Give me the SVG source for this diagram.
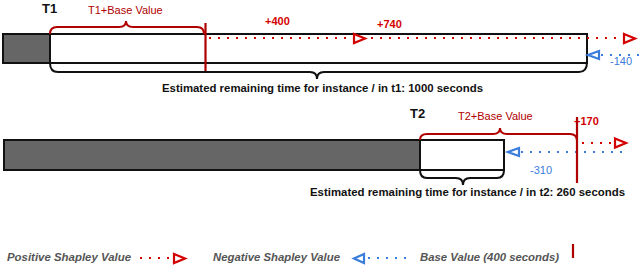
<svg xmlns="http://www.w3.org/2000/svg" width="640" height="267" viewBox="0 0 640 267">
<style>
.bar{fill:#666;stroke:#111;stroke-width:2}
.box{fill:#fff;stroke:#111;stroke-width:2}
.brace{fill:none;stroke:#111;stroke-width:2}
.rbrace{fill:none;stroke:#b00000;stroke-width:2}
.base{stroke:#b00000;stroke-width:2.2}
.pos{fill:none;stroke:#d40000;stroke-width:2;stroke-dasharray:2 7}
.neg{fill:none;stroke:#3a7ddc;stroke-width:2;stroke-dasharray:2 7}
.parr{fill:#fff;stroke:#d40000;stroke-width:2.2}
.narr{fill:#fff;stroke:#3a7ddc;stroke-width:2.2}
.t{font-family:"Liberation Sans",Arial,sans-serif}
.title{font-size:13px;font-weight:bold;fill:#111}
.rlab{font-size:11px;fill:#b00000}
.pnum{font-size:11px;font-weight:bold;fill:#d40000}
.nnum{font-size:11px;fill:#3a7ddc}
.est{font-size:10.5px;font-weight:bold;fill:#111}
.leg{font-size:10.5px;font-weight:bold;font-style:italic;fill:#555}
</style>
<g id="t1-bar">
<rect class="box" x="50" y="34" width="537" height="29"/>
<rect class="bar" x="3" y="34" width="47" height="29"/>
</g>
<g id="t1-labels">
<text class="t title" x="42" y="13">T1</text>
<path class="rbrace" d="M50,34 Q50,27 57,27 L119,27 Q126,27 126,21 Q126,27 133,27 L197,27 Q204,27 204,34"/>
<text class="t rlab" x="88" y="14">T1+Base Value</text>
<path class="brace" d="M50,63 Q50,72 58,72 L310,72 Q317,72 317,79 Q317,72 324,72 L579,72 Q587,72 587,62"/>
<text class="t est" x="162" y="92" textLength="321" lengthAdjust="spacingAndGlyphs">Estimated remaining time for instance / in t1: 1000 seconds</text>
<text class="t pnum" x="265" y="25">+400</text>
<text class="t pnum" x="377" y="28">+740</text>
<text class="t nnum" x="610" y="65">-140</text>
</g>
<g id="t2-bar">
<rect class="bar" x="4" y="140" width="416" height="30"/>
<rect class="box" x="420" y="140" width="84" height="30"/>
</g>
<g id="t2-labels">
<text class="t title" x="410" y="118">T2</text>
<path class="rbrace" d="M420,140 Q420,134 427,134 L493,134 Q500,134 500,128 Q500,134 507,134 L570,134 Q577,134 577,141"/>
<text class="t rlab" x="458" y="120">T2+Base Value</text>
<path class="brace" d="M420,170 Q420,178 427,178 L456,178 Q463,178 463,185 Q463,178 470,178 L497,178 Q504,178 504,170"/>
<text class="t est" x="310" y="196" textLength="315" lengthAdjust="spacingAndGlyphs">Estimated remaining time for instance / in t2: 260 seconds</text>
<text class="t pnum" x="574" y="125">+170</text>
<text class="t nnum" x="530" y="174">-310</text>
</g>
<g id="connectors">
<line class="pos" x1="209" y1="38" x2="624" y2="38"/>
<polygon class="parr" points="354,34 365,38.5 354,43"/>
<polygon class="parr" points="624,34 635,38.5 624,43"/>
<line class="neg" x1="601" y1="55" x2="640" y2="55"/>
<polygon class="narr" points="599,51 588,55 599,59"/>
<line class="base" x1="205.5" y1="23" x2="205.5" y2="71"/>
<line class="pos" x1="582" y1="143" x2="614" y2="143"/>
<polygon class="parr" points="615,138.5 626,143 615,147.5"/>
<line class="neg" x1="521" y1="152" x2="628" y2="152"/>
<polygon class="narr" points="519,148 508,152 519,156"/>
<line class="base" x1="577" y1="117" x2="577" y2="183"/>
</g>
<g id="legend">
<text class="t leg" x="7" y="261" textLength="124" lengthAdjust="spacingAndGlyphs">Positive Shapley Value</text>
<line class="pos" x1="140" y1="258" x2="170" y2="258"/>
<polygon class="parr" points="174,254 185,258.5 174,263"/>
<text class="t leg" x="213" y="261" textLength="127" lengthAdjust="spacingAndGlyphs">Negative Shapley Value</text>
<polygon class="narr" points="364,254 354,258.5 364,263"/>
<line class="neg" x1="368" y1="258" x2="406" y2="258"/>
<text class="t leg" x="420" y="261" textLength="139" lengthAdjust="spacingAndGlyphs">Base Value (400 seconds)</text>
<line class="base" x1="573" y1="244" x2="573" y2="258"/>
</g>
</svg>
